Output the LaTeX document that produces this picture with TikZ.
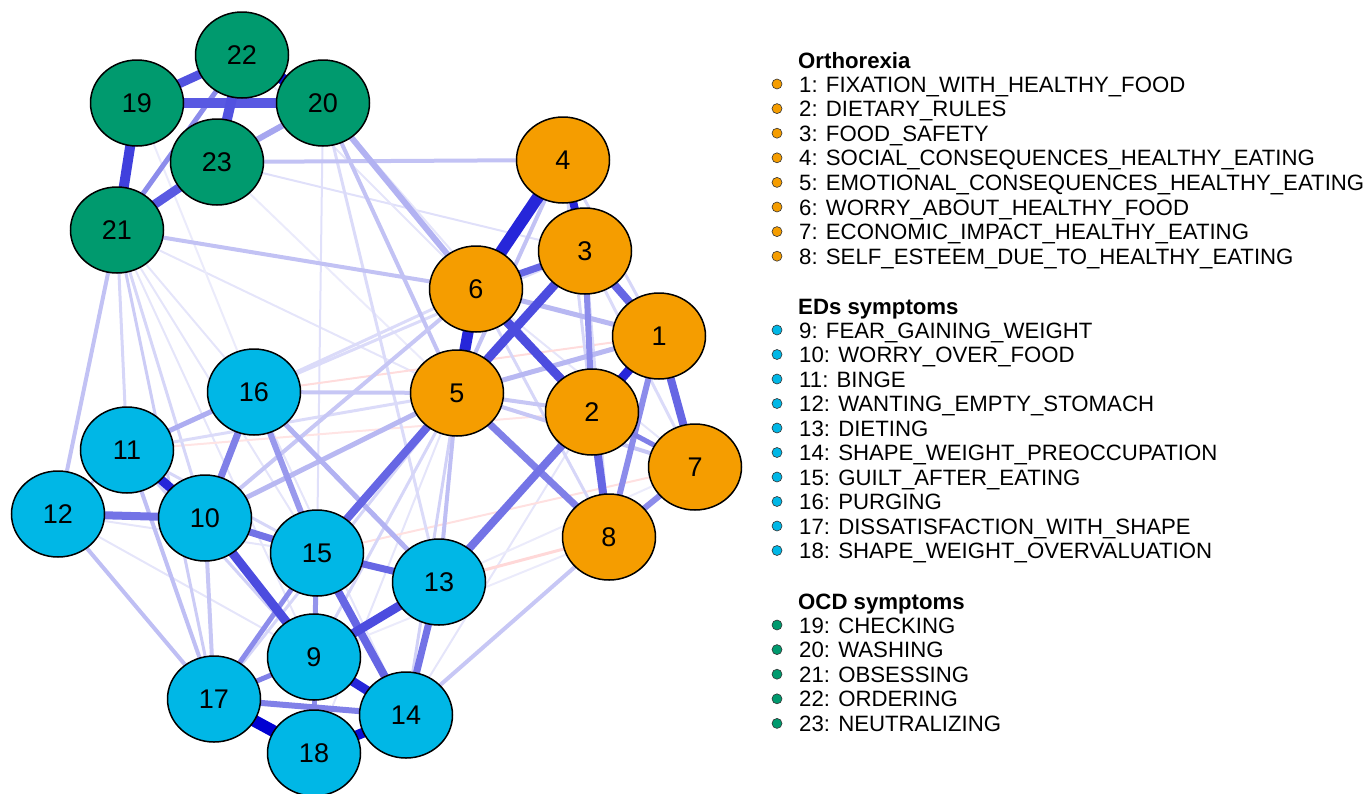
\documentclass[tikz,border=0pt]{standalone}
\usepackage{fontspec}
\setmainfont{Liberation Sans}
\usetikzlibrary{shapes.geometric}
\pgfdeclarelayer{bg}
\pgfsetlayers{bg,main}
\definecolor{ebl}{RGB}{0,0,210}
\definecolor{ered}{RGB}{255,60,60}
\definecolor{cor}{RGB}{245,157,0}
\definecolor{ccy}{RGB}{0,183,230}
\definecolor{cgr}{RGB}{0,154,110}
\tikzset{
  nd/.style={ellipse, draw=black, line width=1.5pt, minimum width=93pt, minimum height=86pt, inner sep=0pt, font=\fontsize{27}{27}\selectfont},
  ornd/.style={nd, fill=cor},
  cynd/.style={nd, fill=ccy},
  grnd/.style={nd, fill=cgr},
  bul/.style={circle, draw=black!80, line width=0.6pt, minimum size=10pt, inner sep=0pt},
  lgt/.style={anchor=base west, inner sep=0pt, font=\fontsize{22.2}{24}\selectfont},
  lgh/.style={anchor=base west, inner sep=0pt, font=\fontsize{22.2}{24}\selectfont\bfseries}
}
\newcommand\E[4]{\draw[line width=#3pt, draw=ebl!#4!white] (#1.center) -- (#2.center);}
\newcommand\R[4]{\draw[line width=#3pt, draw=ered!#4!white] (#1.center) -- (#2.center);}
\begin{document}
\begin{tikzpicture}[x=1pt,y=-1pt]
\useasboundingbox (0,0) rectangle (1365,793);
% nodes
\node[ornd] (n1) at (659,336) {1};
\node[ornd] (n2) at (592,412) {2};
\node[ornd] (n3) at (585,251) {3};
\node[ornd] (n4) at (563,160) {4};
\node[ornd] (n5) at (457,393) {5};
\node[ornd] (n6) at (476,289) {6};
\node[ornd] (n7) at (695,467) {7};
\node[ornd] (n8) at (609,537) {8};
\node[cynd] (n9) at (314,657) {9};
\node[cynd] (n10) at (205,518) {10};
\node[cynd] (n11) at (127,450) {11};
\node[cynd] (n12) at (58,514) {12};
\node[cynd] (n13) at (439,582) {13};
\node[cynd] (n14) at (406,715) {14};
\node[cynd] (n15) at (317,553) {15};
\node[cynd] (n16) at (254,392) {16};
\node[cynd] (n17) at (214,699) {17};
\node[cynd] (n18) at (314,753) {18};
\node[grnd] (n19) at (137,103) {19};
\node[grnd] (n21) at (117,230) {21};
\node[grnd] (n22) at (242,55) {22};
\node[grnd] (n23) at (217,162) {23};
\node[grnd] (n20) at (323,103) {20};
\begin{pgfonlayer}{bg}
% very faint
\E{n21}{n16}{2}{10}
\E{n21}{n9}{2}{10}
\E{n21}{n15}{2}{10}
\E{n21}{n5}{2}{10}
\E{n23}{n3}{2}{12}
\E{n20}{n15}{2}{12}
\E{n20}{n2}{2}{10}
\E{n19}{n16}{2}{8}
\E{n22}{n6}{2}{10}
\E{n23}{n5}{2}{8}
\E{n12}{n15}{2}{10}
\E{n12}{n9}{2}{10}
\E{n16}{n14}{2}{10}
\E{n18}{n5}{2}{10}
\E{n14}{n2}{2}{10}
\E{n13}{n7}{2}{8}
\E{n9}{n8}{2}{8}
\E{n6}{n7}{2}{10}
\R{n16}{n1}{2}{18}
\R{n11}{n2}{2}{14}
\R{n15}{n7}{2}{16}
\R{n13}{n8}{3}{20}
% faint
\E{n21}{n17}{3}{20}
\E{n21}{n10}{3}{16}
\E{n21}{n11}{3}{16}
\E{n20}{n13}{3}{14}
\E{n11}{n15}{3}{16}
\E{n11}{n9}{3}{18}
\E{n16}{n3}{3}{14}
\E{n11}{n5}{3}{14}
\E{n11}{n6}{3}{14}
\E{n9}{n5}{3}{16}
\E{n14}{n5}{3}{18}
\E{n17}{n5}{3}{16}
\E{n4}{n2}{3}{16}
\E{n4}{n1}{3}{16}
\E{n6}{n8}{3}{16}
\E{n3}{n8}{3}{14}
\E{n3}{n7}{3}{14}
\E{n21}{n12}{4}{24}
\E{n21}{n6}{4}{24}
\E{n23}{n4}{4}{24}
\E{n20}{n5}{4}{24}
\E{n12}{n17}{4}{25}
\E{n11}{n17}{4}{25}
\E{n10}{n17}{4}{22}
\E{n10}{n6}{4}{22}
\E{n16}{n5}{4}{22}
\E{n13}{n5}{4}{25}
\E{n14}{n8}{4}{22}
\E{n5}{n7}{4}{22}
\E{n5}{n2}{4}{22}
\E{n4}{n5}{4}{24}
\E{n20}{n6}{6}{30}
\E{n10}{n5}{5}{28}
\E{n6}{n1}{5}{28}
\E{n5}{n1}{5}{28}
\E{n16}{n13}{5}{30}
\E{n11}{n16}{5}{32}
\E{n12}{n11}{3}{20}
% medium
\E{n20}{n23}{6}{35}
\E{n21}{n22}{5}{45}
\E{n16}{n15}{6}{40}
\E{n15}{n9}{5}{42}
\E{n15}{n17}{5}{45}
\E{n9}{n17}{5}{50}
\E{n9}{n18}{5}{45}
\E{n17}{n14}{6}{50}
\E{n13}{n14}{7}{55}
\E{n16}{n10}{7}{50}
\E{n10}{n12}{8}{55}
\E{n10}{n15}{7}{55}
\E{n15}{n13}{7}{60}
\E{n15}{n14}{8}{60}
\E{n3}{n2}{6}{45}
\E{n1}{n8}{6}{45}
\E{n2}{n7}{5}{50}
\E{n7}{n8}{6}{45}
\E{n5}{n8}{7}{50}
\E{n2}{n13}{8}{55}
\E{n5}{n15}{8}{60}
\E{n6}{n3}{7}{60}
\E{n3}{n1}{8}{60}
\E{n1}{n7}{8}{60}
\E{n2}{n8}{8}{60}
% strong
\E{n19}{n20}{10}{65}
\E{n19}{n22}{9}{68}
\E{n22}{n23}{10}{68}
\E{n21}{n23}{9}{65}
\E{n19}{n21}{10}{75}
\E{n3}{n5}{9}{70}
\E{n6}{n2}{9}{70}
\E{n13}{n9}{9}{70}
\E{n10}{n9}{9}{70}
\E{n4}{n3}{8}{85}
\E{n1}{n2}{9}{85}
\E{n10}{n11}{9}{85}
\E{n9}{n14}{9}{85}
\E{n4}{n6}{12}{85}
\E{n6}{n5}{11}{85}
\E{n22}{n20}{11}{95}
\E{n18}{n14}{10}{95}
\E{n17}{n18}{12}{100}
\end{pgfonlayer}
% legend
\node[lgh] (h1) at (798,68) {Orthorexia};
\foreach \t [count=\i] in {1: FIXATION\_WITH\_HEALTHY\_FOOD, 2: DIETARY\_RULES, 3: FOOD\_SAFETY, 4: SOCIAL\_CONSEQUENCES\_HEALTHY\_EATING, 5: EMOTIONAL\_CONSEQUENCES\_HEALTHY\_EATING, 6: WORRY\_ABOUT\_HEALTHY\_FOOD, 7: ECONOMIC\_IMPACT\_HEALTHY\_EATING, 8: SELF\_ESTEEM\_DUE\_TO\_HEALTHY\_EATING}{
  \node[bul, fill=cor] (ba\i) at (777,{84+(\i-1)*24.6}) {};
  \node[lgt] (la\i) at (799,{92+(\i-1)*24.6}) {\t};
}
\node[lgh] (h2) at (798,314) {EDs symptoms};
\foreach \t [count=\i] in {9: FEAR\_GAINING\_WEIGHT, 10: WORRY\_OVER\_FOOD, 11: BINGE, 12: WANTING\_EMPTY\_STOMACH, 13: DIETING, 14: SHAPE\_WEIGHT\_PREOCCUPATION, 15: GUILT\_AFTER\_EATING, 16: PURGING, 17: DISSATISFACTION\_WITH\_SHAPE, 18: SHAPE\_WEIGHT\_OVERVALUATION}{
  \node[bul, fill=ccy] (bb\i) at (777,{330+(\i-1)*24.5}) {};
  \node[lgt] (lb\i) at (799,{338+(\i-1)*24.5}) {\t};
}
\node[lgh] (h3) at (798,609) {OCD symptoms};
\foreach \t [count=\i] in {19: CHECKING, 20: WASHING, 21: OBSESSING, 22: ORDERING, 23: NEUTRALIZING}{
  \node[bul, fill=cgr] (bc\i) at (777,{625+(\i-1)*24.6}) {};
  \node[lgt] (lc\i) at (799,{633+(\i-1)*24.6}) {\t};
}
\end{tikzpicture}
\end{document}
